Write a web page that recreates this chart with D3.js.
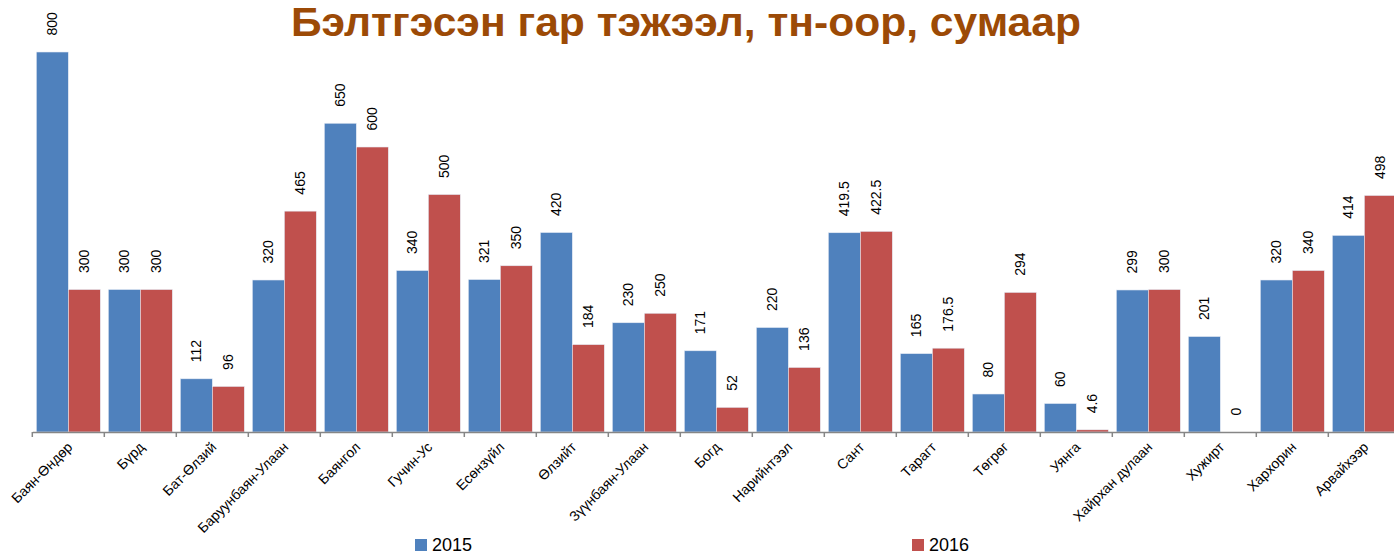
<!DOCTYPE html>
<html>
<head>
<meta charset="utf-8">
<script src="https://cdn.jsdelivr.net/npm/d3@7"></script>
<style>
  body { margin: 0; background: #fff; }
  svg { display: block; }
</style>
</head>
<body>
<svg id="chart" width="1394" height="555"></svg>
<script>
const categories = [
  "Баян-Өндөр", "Бүрд", "Бат-Өлзий", "Баруунбаян-Улаан", "Баянгол",
  "Гучин-Ус", "Есөнзүйл", "Өлзийт", "Зүүнбаян-Улаан", "Богд",
  "Нарийнтээл", "Сант", "Тарагт", "Төгрөг", "Уянга",
  "Хайрхан дулаан", "Хужирт", "Хархорин", "Арвайхээр"
];
const values2015 = [800, 300, 112, 320, 650, 340, 321, 420, 230, 171, 220, 419.5, 165, 80, 60, 299, 201, 320, 414];
const values2016 = [300, 300, 96, 465, 600, 500, 350, 184, 250, 52, 136, 422.5, 176.5, 294, 4.6, 300, 0, 340, 498];
const seriesNames = ["2015", "2016"];
const colors = ["#4f81bd", "#c0504d"];

const svg = d3.select("#chart");

// title
svg.append("text")
  .attr("x", 686)
  .attr("y", 36)
  .attr("text-anchor", "middle")
  .attr("font-family", "Liberation Sans, Arial, sans-serif")
  .attr("font-weight", "bold")
  .attr("font-size", 41)
  .attr("textLength", 790)
  .attr("lengthAdjust", "spacingAndGlyphs")
  .attr("fill", "#9c4a06")
  .text("Бэлтгэсэн гар тэжээл, тн-оор, сумаар");

const left = 32.3, bandW = 72;
const x = d3.scaleBand()
  .domain(categories)
  .range([left, left + bandW * categories.length])
  .paddingInner(0)
  .paddingOuter(0);
const x1 = d3.scaleBand()
  .domain(seriesNames)
  .range([4, bandW - 4]);
const y = d3.scaleLinear().domain([0, 800]).range([432, 52]);

const rows = categories.map((c, i) => ({
  cat: c,
  vals: [
    { s: "2015", v: values2015[i], c: colors[0] },
    { s: "2016", v: values2016[i], c: colors[1] },
  ],
}));

const groups = svg.append("g")
  .selectAll("g")
  .data(rows)
  .enter()
  .append("g")
  .attr("transform", (d) => `translate(${x(d.cat)},0)`);

groups.selectAll("rect")
  .data((d) => d.vals)
  .enter()
  .append("rect")
  .attr("x", (d) => x1(d.s))
  .attr("width", x1.bandwidth())
  .attr("y", (d) => y(d.v))
  .attr("height", (d) => y(0) - y(d.v))
  .attr("fill", (d) => d.c)
  .attr("stroke", "#e6ecf5")
  .attr("stroke-width", 0.6);

groups.selectAll("text")
  .data((d) => d.vals)
  .enter()
  .append("text")
  .attr("transform", (d) => `translate(${x1(d.s) + x1.bandwidth() / 2 + 5},${y(d.v) - 16.5}) rotate(-90)`)
  .attr("font-family", "Liberation Sans, Arial, sans-serif")
  .attr("font-size", 14)
  .attr("fill", "#000")
  .text((d) => d.v);

// axis
const axis = d3.axisBottom(x).tickSize(0).tickFormat("");
const axisG = svg.append("g").attr("transform", "translate(0,432)").call(axis);
axisG.select(".domain").attr("stroke", "#868686").attr("stroke-width", 1.5);

svg.append("g")
  .selectAll("line")
  .data(d3.range(categories.length + 1))
  .enter()
  .append("line")
  .attr("x1", (i) => left + i * bandW)
  .attr("x2", (i) => left + i * bandW)
  .attr("y1", 432)
  .attr("y2", 437)
  .attr("stroke", "#868686")
  .attr("stroke-width", 1.5);

svg.append("g")
  .selectAll("text")
  .data(categories)
  .enter()
  .append("text")
  .attr("transform", (d) => `translate(${x(d) + bandW / 2 + 5},${448}) rotate(-45)`)
  .attr("text-anchor", "end")
  .attr("font-family", "Liberation Sans, Arial, sans-serif")
  .attr("font-size", 14)
  .attr("fill", "#000")
  .text((d) => d);

// legend
const legendX = [415, 912];
const legend = svg.append("g")
  .selectAll("g")
  .data(seriesNames)
  .enter()
  .append("g")
  .attr("transform", (d, i) => `translate(${legendX[i]},539)`);
legend.append("rect")
  .attr("width", 12)
  .attr("height", 12)
  .attr("fill", (d, i) => colors[i]);
legend.append("text")
  .attr("x", 17)
  .attr("y", 12)
  .attr("font-family", "Liberation Sans, Arial, sans-serif")
  .attr("font-size", 18)
  .text((d) => d);
</script>
</body>
</html>
